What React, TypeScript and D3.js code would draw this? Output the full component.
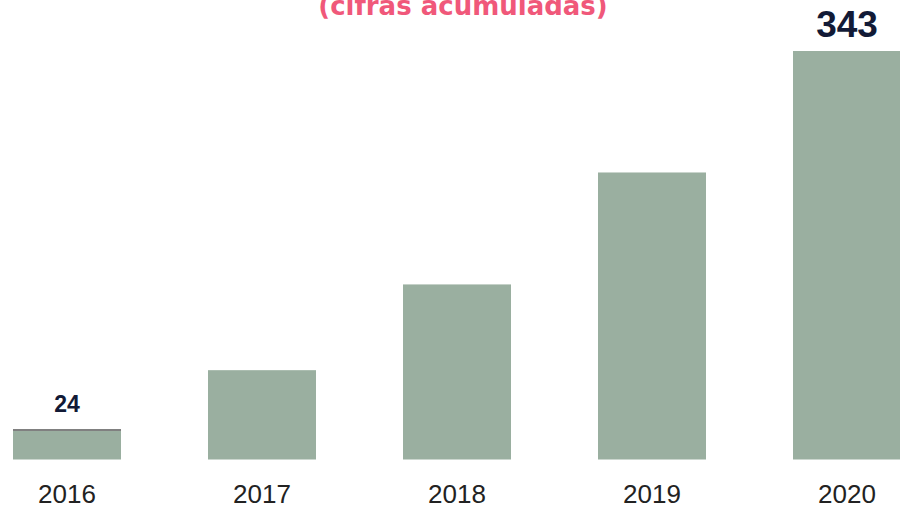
import React, { useEffect, useRef } from "react";
import * as d3 from "d3";

const years = ["2016", "2017", "2018", "2019", "2020"];
const totals = [24, 75, 147, 241, 343];
const shownLabels = ["24", "", "", "", "343"];
const title = "(cifras acumuladas)";

const W = 900;
const H = 508;

export default function App() {
  const svgRef = useRef<SVGSVGElement>(null);

  useEffect(() => {
    const svg = d3.select(svgRef.current);
    svg.selectAll("*").remove();

    const x = d3.scaleBand().domain(years).range([13, 901]).paddingInner(87 / 195).paddingOuter(0);
    const y = d3.scaleLinear().domain([0, 343]).range([459.5, 51]);

    svg
      .append("text")
      .attr("x", 463)
      .attr("y", 15)
      .attr("text-anchor", "middle")
      .attr("fill", "#f0587a")
      .attr("font-family", "'DejaVu Sans', sans-serif")
      .attr("font-weight", "bold")
      .attr("font-size", 26)
      .text(title);

    svg
      .selectAll(".bar")
      .data(years)
      .join("rect")
      .attr("class", "bar")
      .attr("x", (d) => x(d)!)
      .attr("width", x.bandwidth())
      .attr("y", (d, i) => y(totals[i]))
      .attr("height", (d, i) => y(0) - y(totals[i]))
      .attr("fill", "#9aafa0");

    // thin grey edge on the first bar
    svg
      .append("line")
      .attr("x1", x(years[0])!)
      .attr("x2", x(years[0])! + x.bandwidth())
      .attr("y1", y(totals[0]) - 1)
      .attr("y2", y(totals[0]) - 1)
      .attr("stroke", "#808080")
      .attr("stroke-width", 2);

    svg
      .selectAll(".yr")
      .data(years)
      .join("text")
      .attr("class", "yr")
      .attr("x", (d) => x(d)! + x.bandwidth() / 2)
      .attr("y", 503)
      .attr("text-anchor", "middle")
      .attr("fill", "#222")
      .attr("font-family", "'Liberation Sans', sans-serif")
      .attr("font-size", 26)
      .text((d) => d);

    svg
      .selectAll(".val")
      .data(years)
      .join("text")
      .attr("class", "val")
      .attr("x", (d) => x(d)! + x.bandwidth() / 2)
      .attr("y", (d, i) => (i === 0 ? y(totals[i]) - 19 : y(totals[i]) - 14))
      .attr("text-anchor", "middle")
      .attr("fill", "#121a36")
      .attr("font-family", "'Liberation Sans', sans-serif")
      .attr("font-weight", "bold")
      .attr("font-size", (d, i) => (i === 0 ? 23 : 37))
      .text((d, i) => shownLabels[i]);
  }, []);

  return (
    <div style={{ position: "absolute", left: 0, top: 0 }}>
      <svg ref={svgRef} width={W} height={H} style={{ display: "block", background: "#fff" }} />
    </div>
  );
}
